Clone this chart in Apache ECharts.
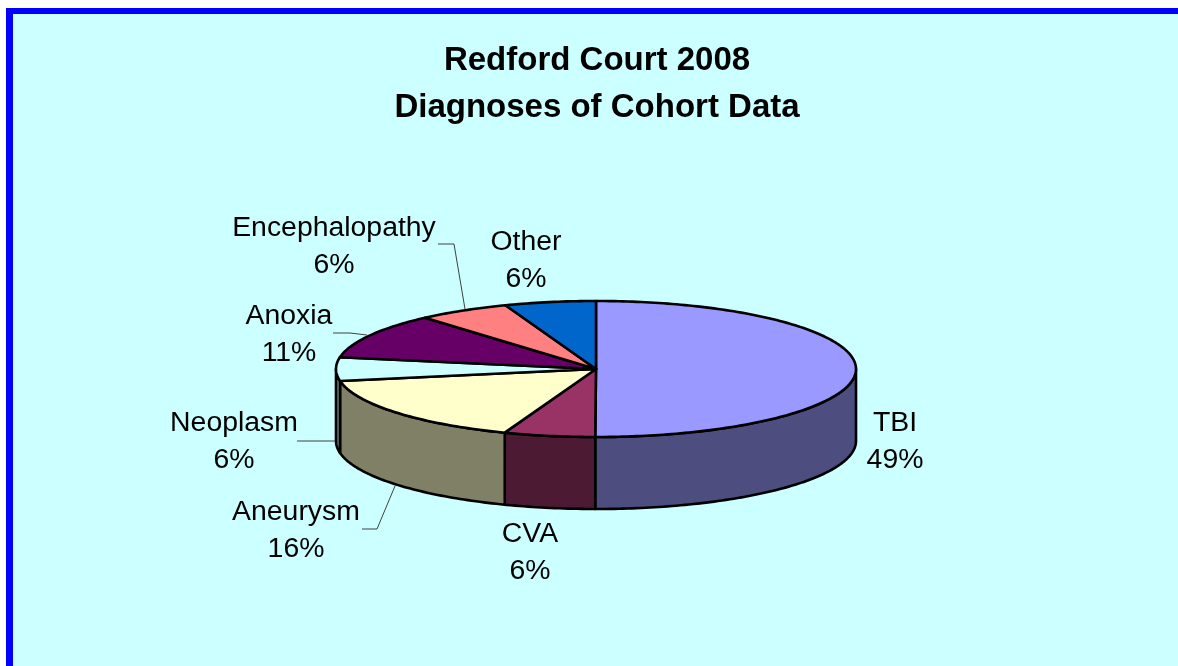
<!DOCTYPE html>
<html>
<head>
<meta charset="utf-8">
<style>
  html, body { margin: 0; padding: 0; background: #fff; }
  #chart { width: 1178px; height: 666px; }
</style>
<script src="https://cdn.jsdelivr.net/npm/echarts@6/dist/echarts.min.js"></script>
</head>
<body>
<div id="chart"></div>
<script>
// values, the labels show them rounded
const categories = ["TBI", "CVA", "Aneurysm", "Neoplasm", "Anoxia", "Encephalopathy", "Other"];
const percents = [49.49, 5.6, 16.3, 5.5, 10.7, 5.7, 5.6];
const topColors = ["#9999ff", "#993366", "#ffffcc", "#ccffff", "#660066", "#ff8080", "#0066cc"];
const wallColors = ["#4d4d80", "#4d1a33", "#808066", "#668080", "#330033", "#804040", "#003366"];

// pie geometry
const cx = 596, cy = 369, rx = 260, ry = 68, depth = 72;
const fontFamily = '"Liberation Sans", Arial, sans-serif';

// label centres and leader lines, same order as categories
const labelSpots = [
  { x: 895, y: 442, line: null },
  { x: 530, y: 553, line: null },
  { x: 296, y: 531, line: [[362, 529], [377, 529], [395, 486]] },
  { x: 234, y: 442, line: [[297, 441], [335, 441]] },
  { x: 289, y: 335, line: [[333, 333], [350, 333], [367, 335]] },
  { x: 334, y: 247, line: [[438, 244], [454, 244], [465, 309]] },
  { x: 526, y: 261, line: null },
];

const total = percents.reduce((a, b) => a + b, 0);

// angle runs clockwise from 12 o'clock
function rimPoint(deg, dy) {
  const a = (deg * Math.PI) / 180;
  return [cx + rx * Math.sin(a), cy - ry * Math.cos(a) + (dy || 0)];
}

function arcPoints(from, to, dy) {
  const pts = [];
  for (let d = from; d < to; d += 1) pts.push(rimPoint(d, dy));
  pts.push(rimPoint(to, dy));
  return pts;
}

function renderSlice(params, api) {
  const i = params.dataIndex;
  const from = api.value(0);
  const to = api.value(1);
  const children = [];
  const edge = { stroke: "#000", lineWidth: 2.6, lineJoin: "round" };

  // only the front half of the wall can be seen
  const wallFrom = Math.max(from, 90);
  const wallTo = Math.min(to, 270);
  if (wallFrom < wallTo) {
    const wall = arcPoints(wallFrom, wallTo, 0).concat(arcPoints(wallFrom, wallTo, depth).reverse());
    children.push({
      type: "polygon",
      shape: { points: wall },
      style: Object.assign({ fill: wallColors[i] }, edge),
    });
  }

  const top = [[cx, cy]].concat(arcPoints(from, to, 0));
  children.push({
    type: "polygon",
    shape: { points: top },
    style: Object.assign({ fill: topColors[i] }, edge),
  });

  const spot = labelSpots[i];
  if (spot.line) {
    children.push({
      type: "polyline",
      shape: { points: spot.line },
      style: { stroke: "#404040", lineWidth: 1, fill: null },
    });
  }
  children.push({
    type: "text",
    x: spot.x,
    y: spot.y,
    style: {
      text: categories[i] + "\n" + Math.round(percents[i]) + "%",
      fill: "#000",
      font: '28.4px ' + fontFamily,
      lineHeight: 37,
      align: "center",
      verticalAlign: "middle",
    },
  });
  return { type: "group", children: children };
}

let sweep = 0;
const sliceData = percents.map((v, i) => {
  const start = sweep;
  sweep += (v / total) * 360;
  return { name: categories[i], value: [start, i === percents.length - 1 ? 360 : sweep] };
});

const chart = echarts.init(document.getElementById("chart"), null, { renderer: "canvas" });
chart.setOption({
  animation: false,
  backgroundColor: "#fff",
  graphic: [
    { type: "rect", z: -10, shape: { x: 6, y: 8, width: 1300, height: 800 }, style: { fill: "#0000ff" } },
    { type: "rect", z: -9, shape: { x: 13, y: 14, width: 1300, height: 800 }, style: { fill: "#ccffff" } },
    {
      type: "text",
      x: 597,
      y: 84,
      style: {
        text: "Redford Court 2008\nDiagnoses of Cohort Data",
        fill: "#000",
        font: 'bold 33px ' + fontFamily,
        lineHeight: 47,
        align: "center",
        verticalAlign: "middle",
      },
    },
  ],
  series: [
    {
      type: "custom",
      coordinateSystem: "none",
      renderItem: renderSlice,
      data: sliceData,
    },
  ],
});
</script>
</body>
</html>
